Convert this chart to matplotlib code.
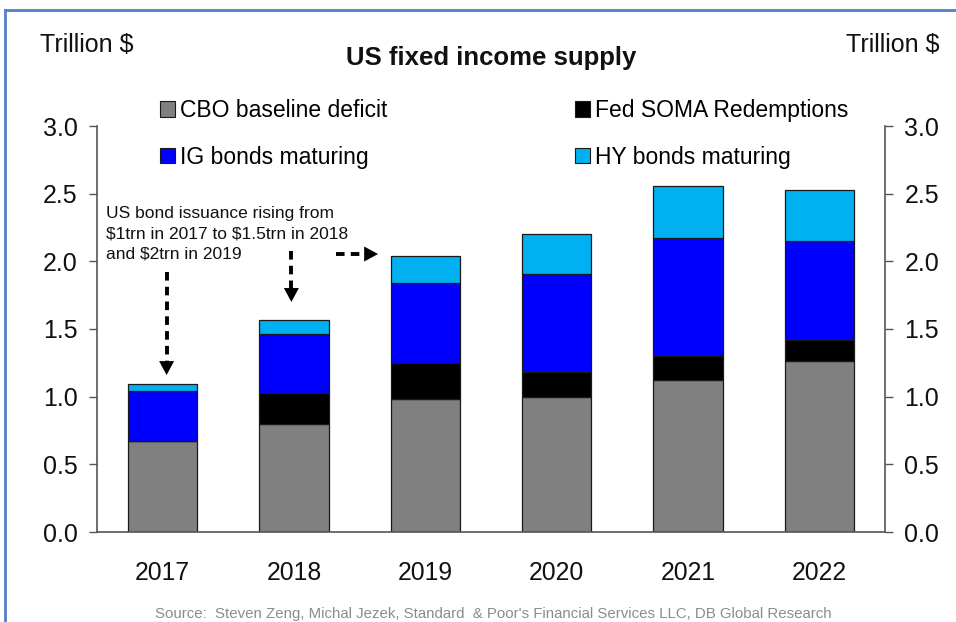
import matplotlib
matplotlib.use("Agg")
import matplotlib.pyplot as plt
from matplotlib.patches import Patch
from matplotlib.lines import Line2D

plt.rcParams['font.family'] = ['Liberation Sans', 'DejaVu Sans']

years = ['2017', '2018', '2019', '2020', '2021', '2022']
cbo_deficit = [0.67, 0.80, 0.98, 1.00, 1.12, 1.26]
soma_redemptions = [0.00, 0.23, 0.27, 0.18, 0.18, 0.16]
ig_maturing = [0.37, 0.43, 0.59, 0.73, 0.87, 0.73]
hy_maturing = [0.05, 0.11, 0.20, 0.29, 0.39, 0.38]

series = [
    ('CBO baseline deficit', cbo_deficit, '#808080'),
    ('Fed SOMA Redemptions', soma_redemptions, '#000000'),
    ('IG bonds maturing', ig_maturing, '#0000FF'),
    ('HY bonds maturing', hy_maturing, '#00B0F0'),
]

W, H = 956, 622
fig = plt.figure(figsize=(W / 100, H / 100), dpi=100)
ax = fig.add_axes([97 / W, 1 - 532 / H, (885 - 97) / W, (532 - 126) / H])

x = list(range(len(years)))
bottom = [0.0] * len(years)
for name, vals, col in series:
    ax.bar(x, vals, width=0.53, bottom=bottom, color=col,
           edgecolor='#1a1a1a', linewidth=0.9, label=name, zorder=2)
    bottom = [b + v for b, v in zip(bottom, vals)]

ax.set_xlim(-0.5, 5.5)
ax.set_ylim(0, 3.0)
ax.set_xticks(x)
ax.set_xticklabels(years)
ax.set_yticks([0, 0.5, 1.0, 1.5, 2.0, 2.5, 3.0])
ax.yaxis.set_major_formatter(matplotlib.ticker.FormatStrFormatter('%.1f'))
ax.tick_params(axis='x', length=0, pad=21, labelsize=17.8, colors='#111111')
ax.tick_params(axis='y', which='both', direction='out', length=6, width=1,
               color='#555555', labelsize=18, pad=8, labelcolor='#111111',
               left=True, right=True, labelleft=True, labelright=True)
ax.spines['top'].set_visible(False)
for s in ('left', 'right', 'bottom'):
    ax.spines[s].set_color('#555555')
    ax.spines[s].set_linewidth(1.2)

# Axis unit labels and title
fig.text(40 / W, 1 - 45 / H, 'Trillion $', fontsize=18, ha='left', va='center',
         color='#111111', parse_math=False)
fig.text(940 / W, 1 - 45 / H, 'Trillion $', fontsize=18, ha='right', va='center',
         color='#111111', parse_math=False)
fig.text(491 / W, 1 - 58 / H, 'US fixed income supply', fontsize=18.5,
         fontweight='bold', ha='center', va='center', color='#111111')

# Legend: two columns, CBO/IG on the left, SOMA/HY on the right
handles = [Patch(facecolor=series[i][2], edgecolor='#1a1a1a', linewidth=0.8)
           for i in (0, 2, 1, 3)]
labels = [series[i][0] for i in (0, 2, 1, 3)]
fig.legend(handles, labels, loc='upper left', bbox_to_anchor=(160 / W, 1 - 99 / H),
           ncol=2, frameon=False, fontsize=16.5, handlelength=0.66,
           handleheight=0.66, handletextpad=0.2, columnspacing=8.2,
           labelspacing=1.03, borderpad=0, borderaxespad=0)

# Annotation text and dashed arrows
note = 'US bond issuance rising from\n$1trn in 2017 to $1.5trn in 2018\nand $2trn in 2019'
ax.text(-0.43, 2.41, note, fontsize=12.5, ha='left', va='top',
        linespacing=1.45, color='#111111', parse_math=False)

arrow_paths = [((0.03, 1.92), (0.03, 1.16)),
               ((0.98, 2.08), (0.98, 1.70)),
               ((1.32, 2.054), (1.64, 2.054))]
for (x0, y0), (x1, y1) in arrow_paths:
    # dashed shaft stops at the base of a solid head
    length = ((x1 - x0) ** 2 + (y1 - y0) ** 2) ** 0.5
    ux, uy = (x1 - x0) / length, (y1 - y0) / length
    ax.plot([x0, x1 - ux * 0.08], [y0, y1 - uy * 0.08],
            color='black', lw=2.8, linestyle=(0, (2.2, 1.6)), solid_capstyle='butt',
            zorder=3)
    ax.annotate('', xy=(x1, y1), xytext=(x1 - ux * 0.16, y1 - uy * 0.16),
                arrowprops=dict(arrowstyle='-|>,head_length=0.5,head_width=0.27',
                                lw=0, color='black', shrinkA=0, shrinkB=0,
                                mutation_scale=20), zorder=3)

fig.text(493 / W, 1 - 614 / H,
         "Source:  Steven Zeng, Michal Jezek, Standard  & Poor's Financial Services LLC, DB Global Research",
         fontsize=10.8, ha='center', va='center', color='#8c8c8c')

# Blue frame along top and left edges
fig.add_artist(Line2D([5 / W, 1.0], [1 - 10 / H, 1 - 10 / H], transform=fig.transFigure,
                      color='#4f81c9', lw=2))
fig.add_artist(Line2D([5 / W, 5 / W], [0, 1 - 10 / H], transform=fig.transFigure,
                      color='#4f81c9', lw=2))

fig.savefig('out.png', dpi=100, facecolor='white')
